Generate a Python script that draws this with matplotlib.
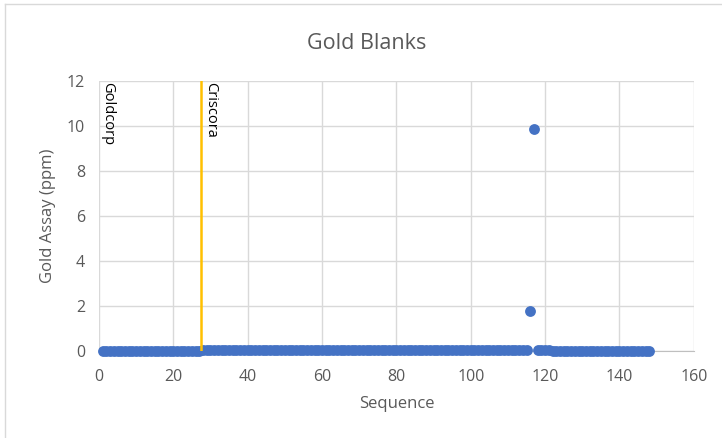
#!/usr/bin/env python3

import matplotlib.pyplot as plt
from matplotlib.lines import Line2D

plt.rcParams['font.family'] = ['Open Sans', 'DejaVu Sans']

# sequence numbers and gold assays (ppm)
goldcorp_seq = list(range(1, 28))
goldcorp_au = [0.01, 0.01, 0.01, 0.01, 0.01, 0.01, 0.01, 0.01, 0.01,
               0.01, 0.01, 0.01, 0.01, 0.01, 0.01, 0.01, 0.01, 0.01,
               0.01, 0.01, 0.01, 0.01, 0.01, 0.01, 0.01, 0.01, 0.01]

criscora_seq = list(range(28, 149))
criscora_au = [
    0.04, 0.04, 0.04, 0.04, 0.04, 0.04, 0.04, 0.04, 0.04, 0.04,   # 28-37
    0.04, 0.04, 0.04, 0.04, 0.04, 0.04, 0.04, 0.04, 0.04, 0.04,   # 38-47
    0.04, 0.04, 0.04, 0.04, 0.04, 0.04, 0.04, 0.04, 0.04, 0.04,   # 48-57
    0.04, 0.04, 0.04, 0.04, 0.04, 0.04, 0.04, 0.04, 0.04, 0.04,   # 58-67
    0.04, 0.04, 0.04, 0.04, 0.04, 0.04, 0.04, 0.04, 0.04, 0.04,   # 68-77
    0.04, 0.04, 0.04, 0.04, 0.04, 0.04, 0.04, 0.04, 0.04, 0.04,   # 78-87
    0.04, 0.04, 0.04, 0.04, 0.04, 0.04, 0.04, 0.04, 0.04, 0.04,   # 88-97
    0.04, 0.04, 0.04, 0.04, 0.04, 0.04, 0.04, 0.04, 0.04, 0.04,   # 98-107
    0.04, 0.04, 0.04, 0.04, 0.04, 0.04, 0.04, 0.04, 1.75, 9.85,   # 108-117
    0.05, 0.05, 0.05, 0.05, 0.01, 0.01, 0.01, 0.01, 0.01, 0.01,   # 118-127
    0.01, 0.01, 0.01, 0.01, 0.01, 0.01, 0.01, 0.01, 0.01, 0.01,   # 128-137
    0.01, 0.01, 0.01, 0.01, 0.01, 0.01, 0.01, 0.01, 0.01, 0.01,   # 138-147
    0.01,                                                        # 148
]

lab_change = 27.5

blue = '#4472C4'
gold = '#FFC000'
grey_text = '#595959'
grid_col = '#D9D9D9'

fig = plt.figure(figsize=(7.22, 4.38), dpi=100)
ax = fig.add_axes([0.137, 0.199, 0.824, 0.616])

seq = goldcorp_seq + criscora_seq
au = goldcorp_au + criscora_au
ax.plot(seq, au, 'o', color=blue, markersize=7.8, markeredgewidth=0,
        zorder=3, clip_on=False)

ax.axvline(lab_change, color=gold, linewidth=1.8, zorder=4)

ax.text(0.3, 11.95, 'Goldcorp', rotation=-90, ha='left', va='top',
        fontsize=10.5, color='black')
ax.text(lab_change + 0.4, 11.95, 'Criscora', rotation=-90, ha='left',
        va='top', fontsize=10.5, color='black')

ax.set_xlim(0, 160)
ax.set_ylim(0, 12)
ax.set_xticks(range(0, 161, 20))
ax.set_yticks(range(0, 13, 2))
ax.grid(True, color=grid_col, linewidth=1)
ax.set_axisbelow(True)
for s in ax.spines.values():
    s.set_visible(False)
ax.spines['bottom'].set_visible(True)
ax.spines['bottom'].set_color('#BFBFBF')
ax.tick_params(length=0, labelsize=11.5, colors=grey_text)
ax.tick_params(axis='x', pad=13)
ax.tick_params(axis='y', pad=10)

ax.set_xlabel('Sequence', fontsize=12, color=grey_text, labelpad=8)
ax.set_ylabel('Gold Assay (ppm)', fontsize=12, color=grey_text, labelpad=8)
fig.suptitle('Gold Blanks', x=0.508, y=0.924, fontsize=15.5, color=grey_text)

# chart-area border (visible at top and left)
fig.add_artist(Line2D([0.007, 1.0], [0.99, 0.99], transform=fig.transFigure,
                      color='#D9D9D9', linewidth=1))
fig.add_artist(Line2D([0.007, 0.007], [0.0, 0.99], transform=fig.transFigure,
                      color='#D9D9D9', linewidth=1))

fig.savefig('out.png', dpi=100, facecolor='white')
